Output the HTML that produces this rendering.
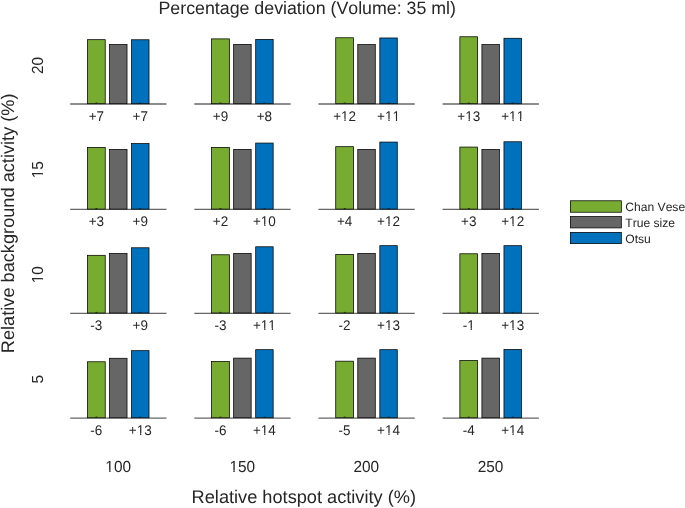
<!DOCTYPE html>
<html><head><meta charset="utf-8"><style>
html,body{margin:0;padding:0;background:#fff;overflow:hidden}
svg{display:block;will-change:transform}
text{font-family:"Liberation Sans",sans-serif;fill:#262626;text-rendering:geometricPrecision;font-kerning:none;font-feature-settings:"kern" 0}
</style></head><body>
<svg width="685" height="508" viewBox="0 0 685 508">
<rect width="685" height="508" fill="#fff"/>
<line x1="70.20" y1="104.00" x2="166.50" y2="104.00" stroke="#666" stroke-width="1.3"/>
<rect x="87.47" y="39.67" width="17.75" height="64.03" fill="#77AC30" stroke="#000" stroke-width="0.75"/>
<rect x="109.53" y="44.48" width="17.50" height="59.23" fill="#666666" stroke="#000" stroke-width="0.75"/>
<rect x="131.57" y="39.77" width="17.45" height="63.93" fill="#0072BD" stroke="#000" stroke-width="0.75"/>
<rect x="95.45" y="102.60" width="1.8" height="0.9" fill="#1a1a1a"/>
<g transform="translate(88.65,120.75) scale(1,1.04)"><text font-size="13.5">+7</text></g>
<rect x="139.40" y="102.60" width="1.8" height="0.9" fill="#1a1a1a"/>
<g transform="translate(132.60,120.75) scale(1,1.04)"><text font-size="13.5">+7</text></g>
<line x1="194.33" y1="104.00" x2="290.63" y2="104.00" stroke="#666" stroke-width="1.3"/>
<rect x="211.60" y="38.88" width="17.75" height="64.83" fill="#77AC30" stroke="#000" stroke-width="0.75"/>
<rect x="233.65" y="44.38" width="17.50" height="59.33" fill="#666666" stroke="#000" stroke-width="0.75"/>
<rect x="255.70" y="39.38" width="17.45" height="64.33" fill="#0072BD" stroke="#000" stroke-width="0.75"/>
<rect x="219.58" y="102.60" width="1.8" height="0.9" fill="#1a1a1a"/>
<g transform="translate(212.78,120.75) scale(1,1.04)"><text font-size="13.5">+9</text></g>
<rect x="263.53" y="102.60" width="1.8" height="0.9" fill="#1a1a1a"/>
<g transform="translate(256.73,120.75) scale(1,1.04)"><text font-size="13.5">+8</text></g>
<line x1="318.46" y1="104.00" x2="414.76" y2="104.00" stroke="#666" stroke-width="1.3"/>
<rect x="335.73" y="37.77" width="17.75" height="65.93" fill="#77AC30" stroke="#000" stroke-width="0.75"/>
<rect x="357.78" y="44.58" width="17.50" height="59.12" fill="#666666" stroke="#000" stroke-width="0.75"/>
<rect x="379.83" y="37.98" width="17.45" height="65.72" fill="#0072BD" stroke="#000" stroke-width="0.75"/>
<rect x="343.71" y="102.60" width="1.8" height="0.9" fill="#1a1a1a"/>
<g transform="translate(333.16,120.75) scale(1,1.04)"><text font-size="13.5">+12</text><rect x="7.55" y="-1.81" width="3.72" height="2.41" fill="#fff"/><rect x="12.47" y="-1.81" width="2.86" height="2.41" fill="#fff"/></g>
<rect x="387.66" y="102.60" width="1.8" height="0.9" fill="#1a1a1a"/>
<g transform="translate(377.11,120.75) scale(1,1.04)"><text font-size="13.5">+11</text><rect x="7.55" y="-1.81" width="3.72" height="2.41" fill="#fff"/><rect x="12.47" y="-1.81" width="2.86" height="2.41" fill="#fff"/><rect x="15.06" y="-1.81" width="3.72" height="2.41" fill="#fff"/><rect x="19.98" y="-1.81" width="2.86" height="2.41" fill="#fff"/></g>
<line x1="442.59" y1="104.00" x2="538.89" y2="104.00" stroke="#666" stroke-width="1.3"/>
<rect x="459.86" y="36.77" width="17.75" height="66.93" fill="#77AC30" stroke="#000" stroke-width="0.75"/>
<rect x="481.91" y="44.58" width="17.50" height="59.12" fill="#666666" stroke="#000" stroke-width="0.75"/>
<rect x="503.96" y="38.27" width="17.45" height="65.43" fill="#0072BD" stroke="#000" stroke-width="0.75"/>
<rect x="467.84" y="102.60" width="1.8" height="0.9" fill="#1a1a1a"/>
<g transform="translate(457.29,120.75) scale(1,1.04)"><text font-size="13.5">+13</text><rect x="7.55" y="-1.81" width="3.72" height="2.41" fill="#fff"/><rect x="12.47" y="-1.81" width="2.86" height="2.41" fill="#fff"/></g>
<rect x="511.79" y="102.60" width="1.8" height="0.9" fill="#1a1a1a"/>
<g transform="translate(501.24,120.75) scale(1,1.04)"><text font-size="13.5">+11</text><rect x="7.55" y="-1.81" width="3.72" height="2.41" fill="#fff"/><rect x="12.47" y="-1.81" width="2.86" height="2.41" fill="#fff"/><rect x="15.06" y="-1.81" width="3.72" height="2.41" fill="#fff"/><rect x="19.98" y="-1.81" width="2.86" height="2.41" fill="#fff"/></g>
<g transform="translate(43.10,74.06) rotate(-90) scale(1,1.04)"><text font-size="15.4">20</text></g>
<line x1="70.20" y1="209.40" x2="166.50" y2="209.40" stroke="#666" stroke-width="1.3"/>
<rect x="87.47" y="147.38" width="17.75" height="61.72" fill="#77AC30" stroke="#000" stroke-width="0.75"/>
<rect x="109.53" y="149.38" width="17.50" height="59.72" fill="#666666" stroke="#000" stroke-width="0.75"/>
<rect x="131.57" y="143.57" width="17.45" height="65.53" fill="#0072BD" stroke="#000" stroke-width="0.75"/>
<rect x="95.45" y="208.00" width="1.8" height="0.9" fill="#1a1a1a"/>
<g transform="translate(88.65,226.15) scale(1,1.04)"><text font-size="13.5">+3</text></g>
<rect x="139.40" y="208.00" width="1.8" height="0.9" fill="#1a1a1a"/>
<g transform="translate(132.60,226.15) scale(1,1.04)"><text font-size="13.5">+9</text></g>
<line x1="194.33" y1="209.40" x2="290.63" y2="209.40" stroke="#666" stroke-width="1.3"/>
<rect x="211.60" y="147.38" width="17.75" height="61.72" fill="#77AC30" stroke="#000" stroke-width="0.75"/>
<rect x="233.65" y="149.38" width="17.50" height="59.72" fill="#666666" stroke="#000" stroke-width="0.75"/>
<rect x="255.70" y="143.07" width="17.45" height="66.03" fill="#0072BD" stroke="#000" stroke-width="0.75"/>
<rect x="219.58" y="208.00" width="1.8" height="0.9" fill="#1a1a1a"/>
<g transform="translate(212.78,226.15) scale(1,1.04)"><text font-size="13.5">+2</text></g>
<rect x="263.53" y="208.00" width="1.8" height="0.9" fill="#1a1a1a"/>
<g transform="translate(252.98,226.15) scale(1,1.04)"><text font-size="13.5">+10</text><rect x="7.55" y="-1.81" width="3.72" height="2.41" fill="#fff"/><rect x="12.47" y="-1.81" width="2.86" height="2.41" fill="#fff"/></g>
<line x1="318.46" y1="209.40" x2="414.76" y2="209.40" stroke="#666" stroke-width="1.3"/>
<rect x="335.73" y="146.68" width="17.75" height="62.42" fill="#77AC30" stroke="#000" stroke-width="0.75"/>
<rect x="357.78" y="149.38" width="17.50" height="59.72" fill="#666666" stroke="#000" stroke-width="0.75"/>
<rect x="379.83" y="142.07" width="17.45" height="67.03" fill="#0072BD" stroke="#000" stroke-width="0.75"/>
<rect x="343.71" y="208.00" width="1.8" height="0.9" fill="#1a1a1a"/>
<g transform="translate(336.91,226.15) scale(1,1.04)"><text font-size="13.5">+4</text></g>
<rect x="387.66" y="208.00" width="1.8" height="0.9" fill="#1a1a1a"/>
<g transform="translate(377.11,226.15) scale(1,1.04)"><text font-size="13.5">+12</text><rect x="7.55" y="-1.81" width="3.72" height="2.41" fill="#fff"/><rect x="12.47" y="-1.81" width="2.86" height="2.41" fill="#fff"/></g>
<line x1="442.59" y1="209.40" x2="538.89" y2="209.40" stroke="#666" stroke-width="1.3"/>
<rect x="459.86" y="147.07" width="17.75" height="62.03" fill="#77AC30" stroke="#000" stroke-width="0.75"/>
<rect x="481.91" y="149.38" width="17.50" height="59.72" fill="#666666" stroke="#000" stroke-width="0.75"/>
<rect x="503.96" y="141.78" width="17.45" height="67.32" fill="#0072BD" stroke="#000" stroke-width="0.75"/>
<rect x="467.84" y="208.00" width="1.8" height="0.9" fill="#1a1a1a"/>
<g transform="translate(461.04,226.15) scale(1,1.04)"><text font-size="13.5">+3</text></g>
<rect x="511.79" y="208.00" width="1.8" height="0.9" fill="#1a1a1a"/>
<g transform="translate(501.24,226.15) scale(1,1.04)"><text font-size="13.5">+12</text><rect x="7.55" y="-1.81" width="3.72" height="2.41" fill="#fff"/><rect x="12.47" y="-1.81" width="2.86" height="2.41" fill="#fff"/></g>
<g transform="translate(43.10,178.36) rotate(-90) scale(1,1.04)"><text font-size="15.4">15</text><rect x="-0.38" y="-1.95" width="4.25" height="2.55" fill="#fff"/><rect x="5.23" y="-1.95" width="3.26" height="2.55" fill="#fff"/></g>
<line x1="70.20" y1="313.30" x2="166.50" y2="313.30" stroke="#666" stroke-width="1.3"/>
<rect x="87.47" y="255.32" width="17.75" height="57.68" fill="#77AC30" stroke="#000" stroke-width="0.75"/>
<rect x="109.53" y="253.47" width="17.50" height="59.53" fill="#666666" stroke="#000" stroke-width="0.75"/>
<rect x="131.57" y="247.78" width="17.45" height="65.22" fill="#0072BD" stroke="#000" stroke-width="0.75"/>
<rect x="95.45" y="311.90" width="1.8" height="0.9" fill="#1a1a1a"/>
<g transform="translate(90.35,330.05) scale(1,1.04)"><text font-size="13.5">-3</text></g>
<rect x="139.40" y="311.90" width="1.8" height="0.9" fill="#1a1a1a"/>
<g transform="translate(132.60,330.05) scale(1,1.04)"><text font-size="13.5">+9</text></g>
<line x1="194.33" y1="313.30" x2="290.63" y2="313.30" stroke="#666" stroke-width="1.3"/>
<rect x="211.60" y="254.78" width="17.75" height="58.22" fill="#77AC30" stroke="#000" stroke-width="0.75"/>
<rect x="233.65" y="253.47" width="17.50" height="59.53" fill="#666666" stroke="#000" stroke-width="0.75"/>
<rect x="255.70" y="246.78" width="17.45" height="66.22" fill="#0072BD" stroke="#000" stroke-width="0.75"/>
<rect x="219.58" y="311.90" width="1.8" height="0.9" fill="#1a1a1a"/>
<g transform="translate(214.48,330.05) scale(1,1.04)"><text font-size="13.5">-3</text></g>
<rect x="263.53" y="311.90" width="1.8" height="0.9" fill="#1a1a1a"/>
<g transform="translate(252.98,330.05) scale(1,1.04)"><text font-size="13.5">+11</text><rect x="7.55" y="-1.81" width="3.72" height="2.41" fill="#fff"/><rect x="12.47" y="-1.81" width="2.86" height="2.41" fill="#fff"/><rect x="15.06" y="-1.81" width="3.72" height="2.41" fill="#fff"/><rect x="19.98" y="-1.81" width="2.86" height="2.41" fill="#fff"/></g>
<line x1="318.46" y1="313.30" x2="414.76" y2="313.30" stroke="#666" stroke-width="1.3"/>
<rect x="335.73" y="254.38" width="17.75" height="58.62" fill="#77AC30" stroke="#000" stroke-width="0.75"/>
<rect x="357.78" y="253.47" width="17.50" height="59.53" fill="#666666" stroke="#000" stroke-width="0.75"/>
<rect x="379.83" y="245.68" width="17.45" height="67.32" fill="#0072BD" stroke="#000" stroke-width="0.75"/>
<rect x="343.71" y="311.90" width="1.8" height="0.9" fill="#1a1a1a"/>
<g transform="translate(338.61,330.05) scale(1,1.04)"><text font-size="13.5">-2</text></g>
<rect x="387.66" y="311.90" width="1.8" height="0.9" fill="#1a1a1a"/>
<g transform="translate(377.11,330.05) scale(1,1.04)"><text font-size="13.5">+13</text><rect x="7.55" y="-1.81" width="3.72" height="2.41" fill="#fff"/><rect x="12.47" y="-1.81" width="2.86" height="2.41" fill="#fff"/></g>
<line x1="442.59" y1="313.30" x2="538.89" y2="313.30" stroke="#666" stroke-width="1.3"/>
<rect x="459.86" y="253.78" width="17.75" height="59.22" fill="#77AC30" stroke="#000" stroke-width="0.75"/>
<rect x="481.91" y="253.47" width="17.50" height="59.53" fill="#666666" stroke="#000" stroke-width="0.75"/>
<rect x="503.96" y="245.68" width="17.45" height="67.32" fill="#0072BD" stroke="#000" stroke-width="0.75"/>
<rect x="467.84" y="311.90" width="1.8" height="0.9" fill="#1a1a1a"/>
<g transform="translate(462.74,330.05) scale(1,1.04)"><text font-size="13.5">-1</text><rect x="4.17" y="-1.81" width="3.72" height="2.41" fill="#fff"/><rect x="9.08" y="-1.81" width="2.86" height="2.41" fill="#fff"/></g>
<rect x="511.79" y="311.90" width="1.8" height="0.9" fill="#1a1a1a"/>
<g transform="translate(501.24,330.05) scale(1,1.04)"><text font-size="13.5">+13</text><rect x="7.55" y="-1.81" width="3.72" height="2.41" fill="#fff"/><rect x="12.47" y="-1.81" width="2.86" height="2.41" fill="#fff"/></g>
<g transform="translate(43.10,283.36) rotate(-90) scale(1,1.04)"><text font-size="15.4">10</text><rect x="-0.38" y="-1.95" width="4.25" height="2.55" fill="#fff"/><rect x="5.23" y="-1.95" width="3.26" height="2.55" fill="#fff"/></g>
<line x1="70.20" y1="418.05" x2="166.50" y2="418.05" stroke="#666" stroke-width="1.3"/>
<rect x="87.47" y="361.77" width="17.75" height="55.98" fill="#77AC30" stroke="#000" stroke-width="0.75"/>
<rect x="109.53" y="358.27" width="17.50" height="59.48" fill="#666666" stroke="#000" stroke-width="0.75"/>
<rect x="131.57" y="350.68" width="17.45" height="67.07" fill="#0072BD" stroke="#000" stroke-width="0.75"/>
<rect x="95.45" y="416.65" width="1.8" height="0.9" fill="#1a1a1a"/>
<g transform="translate(90.35,434.80) scale(1,1.04)"><text font-size="13.5">-6</text></g>
<rect x="139.40" y="416.65" width="1.8" height="0.9" fill="#1a1a1a"/>
<g transform="translate(128.85,434.80) scale(1,1.04)"><text font-size="13.5">+13</text><rect x="7.55" y="-1.81" width="3.72" height="2.41" fill="#fff"/><rect x="12.47" y="-1.81" width="2.86" height="2.41" fill="#fff"/></g>
<line x1="194.33" y1="418.05" x2="290.63" y2="418.05" stroke="#666" stroke-width="1.3"/>
<rect x="211.60" y="361.48" width="17.75" height="56.27" fill="#77AC30" stroke="#000" stroke-width="0.75"/>
<rect x="233.65" y="358.12" width="17.50" height="59.62" fill="#666666" stroke="#000" stroke-width="0.75"/>
<rect x="255.70" y="349.68" width="17.45" height="68.07" fill="#0072BD" stroke="#000" stroke-width="0.75"/>
<rect x="219.58" y="416.65" width="1.8" height="0.9" fill="#1a1a1a"/>
<g transform="translate(214.48,434.80) scale(1,1.04)"><text font-size="13.5">-6</text></g>
<rect x="263.53" y="416.65" width="1.8" height="0.9" fill="#1a1a1a"/>
<g transform="translate(252.98,434.80) scale(1,1.04)"><text font-size="13.5">+14</text><rect x="7.55" y="-1.81" width="3.72" height="2.41" fill="#fff"/><rect x="12.47" y="-1.81" width="2.86" height="2.41" fill="#fff"/></g>
<line x1="318.46" y1="418.05" x2="414.76" y2="418.05" stroke="#666" stroke-width="1.3"/>
<rect x="335.73" y="361.18" width="17.75" height="56.57" fill="#77AC30" stroke="#000" stroke-width="0.75"/>
<rect x="357.78" y="358.12" width="17.50" height="59.62" fill="#666666" stroke="#000" stroke-width="0.75"/>
<rect x="379.83" y="349.68" width="17.45" height="68.07" fill="#0072BD" stroke="#000" stroke-width="0.75"/>
<rect x="343.71" y="416.65" width="1.8" height="0.9" fill="#1a1a1a"/>
<g transform="translate(338.61,434.80) scale(1,1.04)"><text font-size="13.5">-5</text></g>
<rect x="387.66" y="416.65" width="1.8" height="0.9" fill="#1a1a1a"/>
<g transform="translate(377.11,434.80) scale(1,1.04)"><text font-size="13.5">+14</text><rect x="7.55" y="-1.81" width="3.72" height="2.41" fill="#fff"/><rect x="12.47" y="-1.81" width="2.86" height="2.41" fill="#fff"/></g>
<line x1="442.59" y1="418.05" x2="538.89" y2="418.05" stroke="#666" stroke-width="1.3"/>
<rect x="459.86" y="360.48" width="17.75" height="57.27" fill="#77AC30" stroke="#000" stroke-width="0.75"/>
<rect x="481.91" y="358.12" width="17.50" height="59.62" fill="#666666" stroke="#000" stroke-width="0.75"/>
<rect x="503.96" y="349.48" width="17.45" height="68.27" fill="#0072BD" stroke="#000" stroke-width="0.75"/>
<rect x="467.84" y="416.65" width="1.8" height="0.9" fill="#1a1a1a"/>
<g transform="translate(462.74,434.80) scale(1,1.04)"><text font-size="13.5">-4</text></g>
<rect x="511.79" y="416.65" width="1.8" height="0.9" fill="#1a1a1a"/>
<g transform="translate(501.24,434.80) scale(1,1.04)"><text font-size="13.5">+14</text><rect x="7.55" y="-1.81" width="3.72" height="2.41" fill="#fff"/><rect x="12.47" y="-1.81" width="2.86" height="2.41" fill="#fff"/></g>
<g transform="translate(43.10,383.38) rotate(-90) scale(1,1.04)"><text font-size="15.4">5</text></g>
<g transform="translate(105.35,472.00) scale(1,1.04)"><text font-size="15.4">100</text><rect x="-0.38" y="-1.95" width="4.25" height="2.55" fill="#fff"/><rect x="5.23" y="-1.95" width="3.26" height="2.55" fill="#fff"/></g>
<g transform="translate(229.45,472.00) scale(1,1.04)"><text font-size="15.4">150</text><rect x="-0.38" y="-1.95" width="4.25" height="2.55" fill="#fff"/><rect x="5.23" y="-1.95" width="3.26" height="2.55" fill="#fff"/></g>
<g transform="translate(353.45,472.00) scale(1,1.04)"><text font-size="15.4">200</text></g>
<g transform="translate(477.75,472.00) scale(1,1.04)"><text font-size="15.4">250</text></g>
<g transform="translate(158.47,13.70) scale(1,1.0)"><text font-size="17.8">Percentage deviation (Volume: 35 ml)</text></g>
<g transform="translate(191.59,502.90) scale(1,1.0)"><text font-size="18.2">Relative hotspot activity (%)</text></g>
<g transform="translate(14.20,353.21) rotate(-90) scale(1,1.0)"><text font-size="18.2">Relative background activity (%)</text></g>
<rect x="570.38" y="200.78" width="50.95" height="11.45" fill="#77AC30" stroke="#000" stroke-width="0.75"/>
<g transform="translate(625.30,211.40) scale(1,1.0)"><text font-size="12.1">Chan Vese</text></g>
<rect x="570.38" y="216.47" width="50.95" height="11.45" fill="#666666" stroke="#000" stroke-width="0.75"/>
<g transform="translate(625.30,226.80) scale(1,1.0)"><text font-size="12.1">True size</text></g>
<rect x="570.38" y="232.38" width="50.95" height="11.25" fill="#0072BD" stroke="#000" stroke-width="0.75"/>
<g transform="translate(625.30,242.50) scale(1,1.0)"><text font-size="12.1">Otsu</text></g>
</svg>
</body></html>
